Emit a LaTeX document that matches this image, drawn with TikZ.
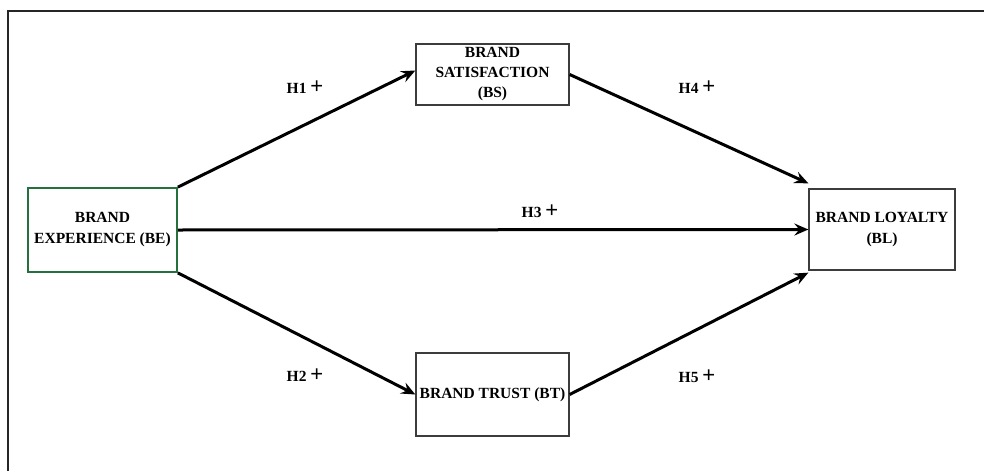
\documentclass[tikz,border=0pt]{standalone}
\usepackage{fontspec}
\setmainfont{Liberation Serif}
\newfontfamily\plusfont{Liberation Sans}
\usetikzlibrary{arrows.meta}
\definecolor{beGreen}{RGB}{38,112,62}
\definecolor{boxGray}{RGB}{60,60,60}

\begin{document}
\begin{tikzpicture}[x=1pt,y=-1pt,
  box/.style={draw=boxGray,line width=1.3pt,inner sep=0pt,align=center,
    font=\fontsize{15.5}{21}\selectfont\bfseries},
  hyp/.style={draw=none,font=\fontsize{15.5}{17}\selectfont\bfseries},
  link/.style={line width=3pt,-{Stealth[length=14pt,width=12pt,inset=5pt]}}]
\useasboundingbox (0,0) rectangle (984,471);

% frame
\draw[line width=2pt,black!85] (8,471) -- (8,11) -- (984,11);

\node[box,draw=beGreen,line width=1.8pt,minimum width=149pt,minimum height=84pt] (be) at (102.5,230) {BRAND\\EXPERIENCE (BE)};
\node[box,minimum width=153pt,minimum height=61pt,font=\fontsize{15.5}{20}\selectfont\bfseries] (bs) at (492.5,74.5) {BRAND\\SATISFACTION\\(BS)};
\node[box,minimum width=153pt,minimum height=83pt] (bt) at (492.5,394.5) {BRAND TRUST (BT)};
\node[box,minimum width=146pt,minimum height=81pt] (bl) at (882,229.5) {BRAND LOYALTY\\(BL)};

\draw[link] (be.north east) -- ([yshift=4pt]bs.west);
\draw[link] (be.east) -- (bl.west);
\draw[link] (be.south east) -- (bt.west);
\draw[link] (bs.east) -- ([yshift=5pt]bl.north west);
\draw[link] (bt.east) -- ([yshift=-2pt]bl.south west);

\node[hyp] (h1) at (305,87) {H1 {\plusfont\mdseries\fontsize{22}{22}\selectfont +}};
\node[hyp] (h2) at (305,375) {H2 {\plusfont\mdseries\fontsize{22}{22}\selectfont +}};
\node[hyp] (h3) at (540,211) {H3 {\plusfont\mdseries\fontsize{22}{22}\selectfont +}};
\node[hyp] (h4) at (697,87) {H4 {\plusfont\mdseries\fontsize{22}{22}\selectfont +}};
\node[hyp] (h5) at (697,376) {H5 {\plusfont\mdseries\fontsize{22}{22}\selectfont +}};

\end{tikzpicture}
\end{document}
